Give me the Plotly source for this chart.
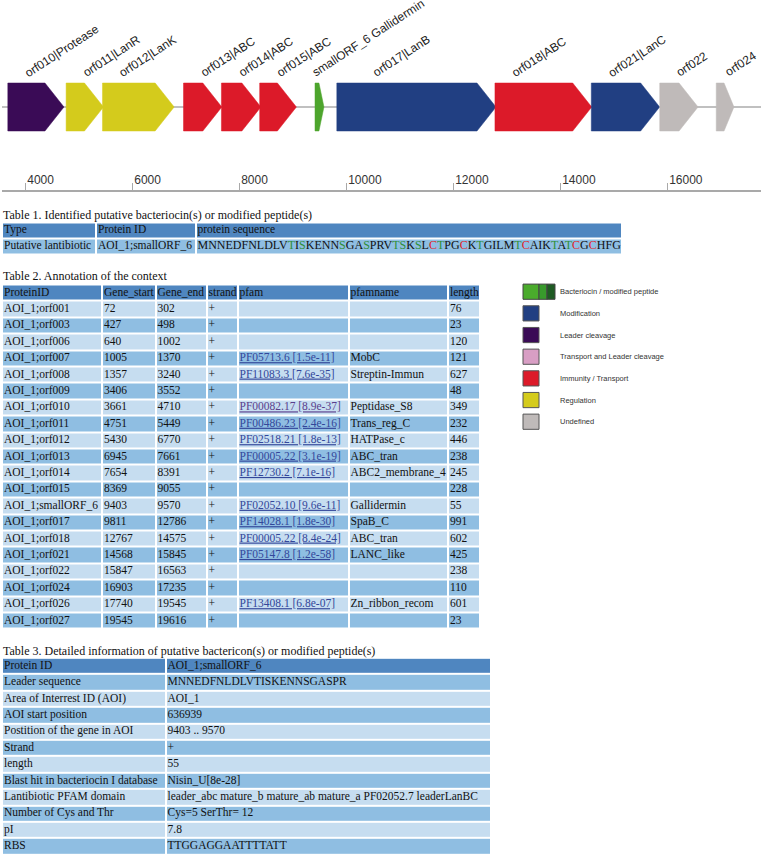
import plotly.graph_objects as go

W, H = 763, 857

# ---------------- data ----------------
gene_labels = ["orf010|Protease", "orf011|LanR", "orf012|LanK", "orf013|ABC", "orf014|ABC",
               "orf015|ABC", "smallORF_6 Gallidermin", "orf017|LanB", "orf018|ABC",
               "orf021|LanC", "orf022", "orf024"]
gene_start = [3661, 4751, 5430, 6945, 7654, 8369, 9403, 9811, 12767, 14568, 15847, 16903]
gene_end = [4710, 5449, 6770, 7661, 8391, 9055, 9570, 12786, 14575, 15845, 16563, 17235]
gene_class = ["Leader cleavage", "Regulation", "Regulation", "Immunity / Transport",
              "Immunity / Transport", "Immunity / Transport", "Bacteriocin / modified peptide",
              "Modification", "Immunity / Transport", "Modification", "Undefined", "Undefined"]
region = [3552, 17740]
axis_ticks = [4000, 6000, 8000, 10000, 12000, 14000, 16000]

legend_classes = ["Bacteriocin / modified peptide", "Modification", "Leader cleavage",
                  "Transport and Leader cleavage", "Immunity / Transport", "Regulation", "Undefined"]

t1_title = "Table 1. Identified putative bacteriocin(s) or modified peptide(s)"
t1_header = ["Type", "Protein ID", "protein sequence"]
t1_row = ["Putative lantibiotic", "AOI_1;smallORF_6",
          "MNNEDFNLDLVTISKENNSGASPRVTSKSLCTPGCKTGILMTCAIKTATCGCHFG"]

t2_title = "Table 2. Annotation of the context"
t2_header = ["ProteinID", "Gene_start", "Gene_end", "strand", "pfam", "pfamname", "length"]
t2_protein = ["AOI_1;orf001", "AOI_1;orf003", "AOI_1;orf006", "AOI_1;orf007", "AOI_1;orf008",
              "AOI_1;orf009", "AOI_1;orf010", "AOI_1;orf011", "AOI_1;orf012", "AOI_1;orf013",
              "AOI_1;orf014", "AOI_1;orf015", "AOI_1;smallORF_6", "AOI_1;orf017", "AOI_1;orf018",
              "AOI_1;orf021", "AOI_1;orf022", "AOI_1;orf024", "AOI_1;orf026", "AOI_1;orf027"]
t2_start = [72, 427, 640, 1005, 1357, 3406, 3661, 4751, 5430, 6945, 7654, 8369, 9403, 9811,
            12767, 14568, 15847, 16903, 17740, 19545]
t2_end = [302, 498, 1002, 1370, 3240, 3552, 4710, 5449, 6770, 7661, 8391, 9055, 9570, 12786,
          14575, 15845, 16563, 17235, 19545, 19616]
t2_strand = ["+"] * 20
t2_pfam = ["", "", "", "PF05713.6 [1.5e-11]", "PF11083.3 [7.6e-35]", "", "PF00082.17 [8.9e-37]",
           "PF00486.23 [2.4e-16]", "PF02518.21 [1.8e-13]", "PF00005.22 [3.1e-19]",
           "PF12730.2 [7.1e-16]", "", "PF02052.10 [9.6e-11]", "PF14028.1 [1.8e-30]",
           "PF00005.22 [8.4e-24]", "PF05147.8 [1.2e-58]", "", "", "PF13408.1 [6.8e-07]", ""]
t2_pfamname = ["", "", "", "MobC", "Streptin-Immun", "", "Peptidase_S8", "Trans_reg_C",
               "HATPase_c", "ABC_tran", "ABC2_membrane_4", "", "Gallidermin", "SpaB_C",
               "ABC_tran", "LANC_like", "", "", "Zn_ribbon_recom", ""]
t2_length = [76, 23, 120, 121, 627, 48, 349, 232, 446, 238, 245, 228, 55, 991, 602, 425, 238,
             110, 601, 23]
t2_visited = ["PF00082.17 [8.9e-37]"]

t3_title = "Table 3. Detailed information of putative bactericon(s) or modified peptide(s)"
t3_fields = ["Protein ID", "Leader sequence", "Area of Interrest ID (AOI)", "AOI start position",
             "Postition of the gene in AOI", "Strand", "length", "Blast hit in bacteriocin I database",
             "Lantibiotic PFAM domain", "Number of Cys and Thr", "pI", "RBS"]
t3_values = ["AOI_1;smallORF_6", "MNNEDFNLDLVTISKENNSGASPR", "AOI_1", "636939", "9403 .. 9570",
             "+", "55", "Nisin_U[8e-28]",
             "leader_abc mature_b mature_ab mature_a PF02052.7 leaderLanBC",
             "Cys=5 SerThr= 12", "7.8", "TTGGAGGAATTTTATT"]

# ---------------- style ----------------
class_colors = {
    "Bacteriocin / modified peptide": "#4da52d",
    "Modification": "#213f82",
    "Leader cleavage": "#3a0b56",
    "Transport and Leader cleavage": "#d89ec4",
    "Immunity / Transport": "#dc1a29",
    "Regulation": "#d4cb1c",
    "Undefined": "#bfbab9",
}
HDR, LIGHT, MED = "#4f86c0", "#c6ddf0", "#8fbee2"
SERIF = "Liberation Serif"
SANS = "Liberation Sans"
TFONT = 11.5
MAP_TOP, MAP_BOTTOM, MAP_MID = 0, 190, 107      # px
HALF_H = 24                                      # arrow half-height (px == y units)
PX_PER_BP = (761 - 2) / (region[1] - region[0])


def pyp(px):
    return 1 - px / H


fig = go.Figure()

# ---------- gene map ----------
fig.add_trace(go.Scatter(x=region, y=[0, 0], mode="lines", line=dict(color="#ababab", width=1.5),
                         hoverinfo="skip", showlegend=False))
for name, s, e, c in zip(gene_labels, gene_start, gene_end, gene_class):
    head = min(355, 0.56 * (e - s))
    col = class_colors[c]
    fig.add_trace(go.Scatter(
        x=[s, e - head, e, e - head, s, s],
        y=[HALF_H, HALF_H, 0, -HALF_H, -HALF_H, HALF_H],
        mode="lines", fill="toself", fillcolor=col, line=dict(color=col, width=0.5),
        hoverinfo="skip", showlegend=False))
    glen_px = (e - s) * PX_PER_BP
    off = min(17, 0.5 * glen_px)
    if name == "orf017|LanB":
        off = 36
    if name.startswith("smallORF"):
        off = -3
    fig.add_annotation(x=s, y=HALF_H + 2, xref="x", yref="y", text=name, showarrow=False,
                       xanchor="left", yanchor="bottom", textangle=-33, xshift=off - 4,
                       font=dict(family=SANS, size=12, color="#222"), borderpad=0)

# ---------- tables ----------
def add_table(rows, col_edges, fills, yaxis, top_px, row_h, special=None):
    n = len(rows)
    fig.add_trace(go.Heatmap(
        z=fills, x=col_edges, y=list(range(n)), xaxis="x2", yaxis=yaxis,
        colorscale=[[0, HDR], [0.5, LIGHT], [1, MED]], zmin=0, zmax=2, showscale=False,
        xgap=2, ygap=2, hoverinfo="skip"))
    xs, ys, ts = [], [], []
    for r, row in enumerate(rows):
        for ci, val in enumerate(row):
            if val == "":
                continue
            xs.append(col_edges[ci] + 2)
            ys.append(r)
            ts.append(special(val) if special else val)
    fig.add_trace(go.Scatter(x=xs, y=ys, text=ts, mode="text", textposition="middle right",
                             textfont=dict(family=SERIF, size=TFONT, color="#111"),
                             xaxis="x2", yaxis=yaxis, hoverinfo="skip", showlegend=False))
    bottom_px = top_px + n * row_h
    fig.layout[yaxis.replace("y", "yaxis")] = dict(
        domain=[pyp(bottom_px), pyp(top_px)], range=[n - 0.5, -0.5], visible=False,
        anchor="x2", fixedrange=True)


def style_seq(val):
    if val != t1_row[2]:
        return val
    out = []
    for ch in val:
        if ch in "ST":
            out.append(f"<span style='color:#2f8f3a'>{ch}</span>")
        elif ch == "C":
            out.append(f"<span style='color:#e0231f'>{ch}</span>")
        else:
            out.append(ch)
    return "<span style='font-size:12px'>" + "".join(out) + "</span>"


def style_link(val):
    if val.startswith("PF") and " [" in val:
        col = "#5b3f8c" if val in t2_visited else "#33479a"
        return f"<span style='color:{col};text-decoration:underline'>{val}</span>"
    return val


ROW_H = 16.4
# Table 1
add_table([t1_header, t1_row], [2, 96, 195.5, 622], [[0, 0, 0], [2, 2, 2]], "y2", 222.5, 16,
          special=style_seq)
# Table 2
t2_rows = [t2_header] + [
    [p, str(a), str(b), st, pf, pn, str(L)]
    for p, a, b, st, pf, pn, L in zip(t2_protein, t2_start, t2_end, t2_strand, t2_pfam,
                                      t2_pfamname, t2_length)]
t2_fill = [[0] * 7] + [[1 + (i % 2)] * 7 for i in range(len(t2_protein))]
add_table(t2_rows, [2, 102, 155.5, 206.5, 237.5, 348.5, 448, 479.5], t2_fill, "y3", 284.5,
          ROW_H, special=style_link)
# Table 3
t3_rows = [[f, v] for f, v in zip(t3_fields, t3_values)]
t3_fill = [[0, 0]] + [[2 - (i % 2)] * 2 for i in range(len(t3_fields) - 1)]
add_table(t3_rows, [2, 165.5, 491], t3_fill, "y4", 657.8, ROW_H)

for title, ypx in [(t1_title, 215), (t2_title, 276), (t3_title, 651)]:
    fig.add_annotation(x=2 / W, y=pyp(ypx), xref="paper", yref="paper", text=title,
                       showarrow=False, xanchor="left", yanchor="middle",
                       font=dict(family=SERIF, size=12, color="#111"), borderpad=0)

# ---------- legend (static key) ----------
shapes = []
for i, cls in enumerate(legend_classes):
    cy = 291.7 + i * 21.67
    y0, y1 = pyp(cy + 7.6), pyp(cy - 7.6)
    if i == 0:
        for (a, b, c) in [(523, 539, "#4aab2c"), (539, 547, "#389a2c"), (547, 555, "#1e5a23")]:
            shapes.append(dict(type="rect", xref="paper", yref="paper", x0=a / W, x1=b / W,
                               y0=y0, y1=y1, fillcolor=c, line=dict(color="#444", width=1)))
    else:
        shapes.append(dict(type="rect", xref="paper", yref="paper", x0=523 / W, x1=539 / W,
                           y0=y0, y1=y1, fillcolor=class_colors[cls],
                           line=dict(color="#555", width=1)))
    fig.add_annotation(x=559 / W, y=pyp(cy), xref="paper", yref="paper", text=cls,
                       showarrow=False, xanchor="left", yanchor="middle",
                       font=dict(family=SANS, size=7.5, color="#333"), borderpad=0)

fig.update_layout(
    width=W, height=H, margin=dict(l=0, r=0, t=0, b=0),
    paper_bgcolor="white", plot_bgcolor="rgba(0,0,0,0)", showlegend=False,
    shapes=shapes,
    xaxis=dict(domain=[2 / W, 761 / W], range=region, showgrid=False, zeroline=False,
               showline=True, linecolor="#a9a9a9", linewidth=1.5, ticks="inside", ticklen=7,
               tickcolor="#a9a9a9", tickwidth=1, tickvals=axis_ticks, tickformat="d",
               ticklabelposition="inside right",
               tickfont=dict(family=SANS, size=12, color="#333"), fixedrange=True),
    yaxis=dict(domain=[pyp(MAP_BOTTOM), pyp(MAP_TOP)],
               range=[MAP_MID - MAP_BOTTOM, MAP_MID - MAP_TOP], visible=False, fixedrange=True),
    xaxis2=dict(domain=[0, 1], range=[0, W], visible=False, fixedrange=True, anchor="y2"),
)

fig.write_html("out.html", config={"displayModeBar": False},
               post_script="document.body.style.margin='0';document.body.style.overflow='hidden';")
